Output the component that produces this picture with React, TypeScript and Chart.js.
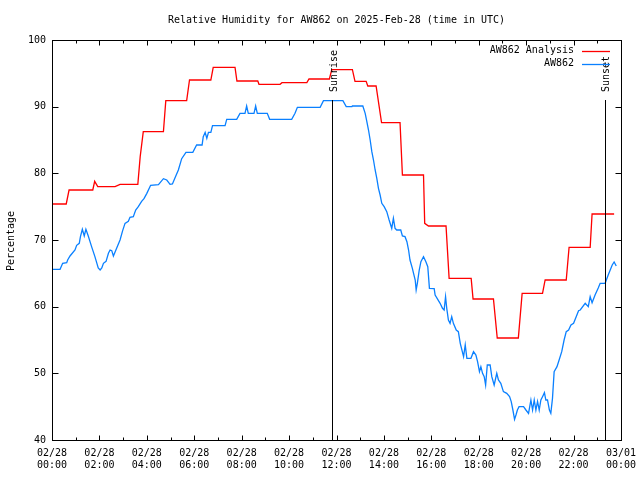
import React, { useEffect, useRef } from "react";
import { Chart, registerables } from "chart.js";

Chart.register(...registerables);

const TITLE = "Relative Humidity for AW862 on 2025-Feb-28 (time in UTC)";
const Y_TITLE = "Percentage";
const SERIES_NAMES = ["AW862 Analysis", "AW862"];
const SERIES_COLORS = ["#ff0000", "#0a80ff"];

// x tick labels every 2 hours (hours since 2025-02-28 00:00 UTC)
const xTickHours = [0, 2, 4, 6, 8, 10, 12, 14, 16, 18, 20, 22, 24];
const xTickDates = ["02/28", "02/28", "02/28", "02/28", "02/28", "02/28", "02/28", "02/28", "02/28", "02/28", "02/28", "02/28", "03/01"];
const xTickTimes = ["00:00", "02:00", "04:00", "06:00", "08:00", "10:00", "12:00", "14:00", "16:00", "18:00", "20:00", "22:00", "00:00"];
const yTicks = [40, 50, 60, 70, 80, 90, 100];

const sunriseHour = 11.83;
const sunsetHour = 23.32;
const markerTopValue = 91;

// AW862 Analysis (red)
const analysisHours = [
  0.0, 0.6, 0.72, 1.72, 1.8, 1.93, 2.66, 2.87, 3.62, 3.72, 3.85, 4.7, 4.8, 5.68, 5.8, 6.7, 6.8, 7.72, 7.8,
  8.68, 8.73, 9.62, 9.7, 10.75, 10.84, 11.7, 11.8, 12.67, 12.78, 13.25, 13.32, 13.67, 13.9, 14.68, 14.78,
  15.67, 15.72, 15.88, 16.62, 16.75, 17.68, 17.76, 18.62, 18.78, 19.67, 19.83, 20.69, 20.8, 21.69, 21.81,
  22.7, 22.78, 23.71,
];
const analysisValues = [
  75.4, 75.4, 77.5, 77.5, 78.8, 78.0, 78.0, 78.35, 78.35, 82.5, 86.25, 86.25, 90.9, 90.9, 94.0, 94.0, 95.9, 95.9, 93.85,
  93.85, 93.35, 93.35, 93.6, 93.6, 94.15, 94.15, 95.55, 95.55, 93.8, 93.8, 93.1, 93.1, 87.6, 87.6, 79.75,
  79.75, 72.5, 72.1, 72.1, 64.25, 64.25, 61.15, 61.15, 55.3, 55.3, 62.0, 62.0, 64.0, 64.0, 68.9,
  68.9, 73.9, 73.9,
];

// AW862 station (blue)
const stationHours = [
  0.0, 0.34, 0.45, 0.62, 0.66, 0.76, 0.97, 1.04, 1.15, 1.2, 1.28, 1.36, 1.43, 1.53, 1.67, 1.81, 1.95, 2.03, 2.1,
  2.17, 2.28, 2.38, 2.45, 2.52, 2.59, 2.73, 2.87, 2.98, 3.08, 3.22, 3.29, 3.43, 3.53, 3.64, 3.78, 3.88, 4.0,
  4.16, 4.49, 4.7, 4.84, 4.98, 5.08, 5.19, 5.33, 5.47, 5.65, 5.94, 6.1, 6.33, 6.38, 6.46, 6.53, 6.6, 6.7,
  6.77, 7.3, 7.37, 7.79, 7.93, 8.14, 8.21, 8.28, 8.52, 8.59, 8.66, 9.08, 9.18, 10.11, 10.25, 10.35, 11.31,
  11.45, 12.27, 12.41, 12.65, 12.67, 13.11, 13.21, 13.28, 13.35, 13.42, 13.49, 13.56, 13.63, 13.7, 13.77,
  13.84, 13.91, 14.01, 14.12, 14.22, 14.33, 14.4, 14.47, 14.54, 14.71, 14.78, 14.89, 14.97, 15.04, 15.1,
  15.2, 15.25, 15.32, 15.36, 15.41, 15.49, 15.56, 15.67, 15.77, 15.85, 15.92, 16.12, 16.16, 16.37, 16.47,
  16.54, 16.6, 16.65, 16.72, 16.79, 16.86, 16.93, 17.05, 17.14, 17.22, 17.36, 17.43, 17.5, 17.67, 17.78,
  17.88, 17.95, 18.03, 18.09, 18.16, 18.23, 18.29, 18.36, 18.48, 18.55, 18.65, 18.76, 18.83, 18.93, 19.04,
  19.18, 19.3, 19.37, 19.44, 19.51, 19.57, 19.63, 19.7, 19.89, 19.99, 20.1, 20.2, 20.27, 20.34, 20.41,
  20.48, 20.55, 20.62, 20.69, 20.77, 20.83, 20.9, 20.98, 21.04, 21.11, 21.18, 21.3, 21.39, 21.5, 21.6,
  21.69, 21.79, 21.89, 22.0, 22.11, 22.21, 22.28, 22.49, 22.62, 22.7, 22.78, 22.91, 23.04, 23.12, 23.33,
  23.46, 23.63, 23.71, 23.8,
];
const stationValues = [
  65.6, 65.6, 66.5, 66.6, 67.0, 67.6, 68.5, 69.2, 69.5, 70.5, 71.6, 70.6, 71.6, 70.6, 69.0, 67.5, 65.8, 65.5, 65.8,
  66.5, 66.8, 68.0, 68.5, 68.4, 67.6, 68.8, 70.0, 71.4, 72.5, 72.8, 73.4, 73.5, 74.5, 75.0, 75.8, 76.2, 77.0,
  78.2, 78.3, 79.2, 79.0, 78.35, 78.4, 79.35, 80.5, 82.2, 83.15, 83.15, 84.25, 84.25, 85.5, 86.15, 85.25, 86.15, 86.15,
  87.15, 87.15, 88.1, 88.1, 89.0, 89.0, 90.1, 89.0, 89.0, 90.1, 89.0, 89.0, 88.1, 88.1, 89.0, 89.9, 89.9,
  90.9, 90.9, 90.0, 90.0, 90.1, 90.1, 89.0, 87.75, 86.5, 85.0, 83.25, 82.0, 80.5, 79.25, 77.75,
  76.75, 75.5, 75.0, 74.25, 73.0, 71.75, 73.25, 71.75, 71.5, 71.5, 70.6, 70.5, 69.75, 68.5, 67.0,
  65.75, 65.0, 64.0, 62.5, 63.5, 65.5, 66.75, 67.5, 66.75, 66.0, 62.75, 62.7, 61.75, 60.5, 59.75,
  59.5, 61.5, 59.75, 58.0, 57.5, 58.5, 57.5, 56.5, 56.25, 54.5, 52.5, 54.25, 52.25, 52.25, 53.25,
  52.75, 51.75, 50.25, 51.0, 50.0, 49.5, 48.25, 51.25, 51.25, 49.5, 48.25, 50.0, 49.0, 48.5, 47.25,
  47.0, 46.5, 45.75, 44.5, 43.1, 43.75, 44.5, 45.0, 45.0, 44.5, 44.0, 46.0, 44.5, 46.0, 44.5,
  45.8, 44.5, 46.0, 46.5, 47.1, 46.0, 46.0, 44.5, 44.0, 46.25, 50.25, 51.0, 52.0, 53.25, 55.0,
  56.25, 56.5, 57.25, 57.5, 58.5, 59.4, 59.5, 60.5, 60.0, 61.5, 60.6, 61.8, 62.8, 63.5, 63.5,
  64.75, 66.25, 66.7, 66.1,
];

const FONT_FAMILY = '"DejaVu Sans Mono", "Liberation Mono", monospace';
const FONT = '10px ' + FONT_FAMILY;

const decorPlugin = {
  id: "gnuplotDecor",
  afterDraw(chart: any) {
    const ctx = chart.ctx as CanvasRenderingContext2D;
    const area = chart.chartArea;
    const xs = chart.scales.x;
    const ys = chart.scales.y;
    const L = Math.round(area.left) + 0.5;
    const R = Math.round(area.right) + 0.5;
    const T = Math.round(area.top) + 0.5;
    const B = Math.round(area.bottom) + 0.5;
    ctx.save();
    ctx.strokeStyle = "#000";
    ctx.lineWidth = 1;
    ctx.beginPath();
    for (let h = 0; h <= 24; h++) {
      const px = Math.round(xs.getPixelForValue(h)) + 0.5;
      const len = h % 2 === 0 ? 5 : 3;
      ctx.moveTo(px, B);
      ctx.lineTo(px, B - len);
      ctx.moveTo(px, T);
      ctx.lineTo(px, T + len);
    }
    for (const v of yTicks) {
      const py = Math.round(ys.getPixelForValue(v)) + 0.5;
      ctx.moveTo(L, py);
      ctx.lineTo(L + 6, py);
      ctx.moveTo(R, py);
      ctx.lineTo(R - 6, py);
    }
    ctx.stroke();
    ctx.strokeRect(L, T, R - L, B - T);

    // sunrise / sunset
    ctx.beginPath();
    const markers: [number, string][] = [
      [sunriseHour, "Sunrise"],
      [sunsetHour, "Sunset"],
    ];
    const yTop = Math.round(ys.getPixelForValue(markerTopValue));
    for (const [h] of markers) {
      const px = Math.round(xs.getPixelForValue(h)) + 0.5;
      ctx.moveTo(px, yTop);
      ctx.lineTo(px, B);
    }
    ctx.stroke();
    ctx.fillStyle = "#000";
    ctx.font = FONT;
    for (const [h, label] of markers) {
      const px = xs.getPixelForValue(h);
      ctx.save();
      ctx.translate(px + 1.5, yTop - 8);
      ctx.rotate(-Math.PI / 2);
      ctx.textAlign = "left";
      ctx.textBaseline = "middle";
      ctx.fillText(label, 0, 0);
      ctx.restore();
    }

    // title
    ctx.textAlign = "center";
    ctx.textBaseline = "middle";
    ctx.fillText(TITLE, (area.left + area.right) / 2, 20);

    // y title
    ctx.save();
    ctx.translate(11, (area.top + area.bottom) / 2 + 1);
    ctx.rotate(-Math.PI / 2);
    ctx.textAlign = "center";
    ctx.textBaseline = "middle";
    ctx.fillText(Y_TITLE, 0, 0);
    ctx.restore();

    // legend
    ctx.textAlign = "right";
    for (let i = 0; i < SERIES_NAMES.length; i++) {
      const ly = area.top + 10.5 + i * 13;
      ctx.fillStyle = "#000";
      ctx.fillText(SERIES_NAMES[i], area.right - 47, ly);
      ctx.strokeStyle = SERIES_COLORS[i];
      ctx.lineWidth = 1.3;
      ctx.beginPath();
      ctx.moveTo(area.right - 39, Math.round(ly) + 0.5);
      ctx.lineTo(area.right - 11, Math.round(ly) + 0.5);
      ctx.stroke();
    }
    ctx.restore();
  },
};

export default function App() {
  const canvasRef = useRef<HTMLCanvasElement | null>(null);

  useEffect(() => {
    document.body.style.margin = "0";
    const canvas = canvasRef.current;
    if (!canvas) return;
    const chart = new Chart(canvas, {
      type: "line",
      data: {
        datasets: [
          {
            label: SERIES_NAMES[0],
            data: analysisHours.map((h, i) => ({ x: h, y: analysisValues[i] })),
            borderColor: SERIES_COLORS[0],
            borderWidth: 1.3,
            pointRadius: 0,
            tension: 0,
            fill: false,
          },
          {
            label: SERIES_NAMES[1],
            data: stationHours.map((h, i) => ({ x: h, y: stationValues[i] })),
            borderColor: SERIES_COLORS[1],
            borderWidth: 1.3,
            pointRadius: 0,
            tension: 0,
            fill: false,
          },
        ],
      },
      options: {
        animation: false,
        responsive: false,
        maintainAspectRatio: false,
        devicePixelRatio: 1,
        layout: { padding: { top: 40, right: 19, left: 0, bottom: 0 } },
        plugins: {
          legend: { display: false },
          title: { display: false },
          tooltip: { enabled: false },
        },
        scales: {
          x: {
            type: "linear",
            min: 0,
            max: 24,
            afterFit: (s: any) => {
              s.height = 40;
              s.paddingLeft = 0;
              s.paddingRight = 0;
            },
            afterBuildTicks: (s: any) => {
              s.ticks = xTickHours.map((v) => ({ value: v }));
            },
            grid: { display: false, drawTicks: false },
            border: { display: false },
            ticks: {
              autoSkip: false,
              maxRotation: 0,
              minRotation: 0,
              padding: 7,
              color: "#000",
              font: { family: FONT_FAMILY, size: 10, lineHeight: 1.2 },
              callback: (value: any) => {
                const i = xTickHours.indexOf(Number(value));
                return i >= 0 ? [xTickDates[i], xTickTimes[i]] : "";
              },
            },
          },
          y: {
            type: "linear",
            min: 40,
            max: 100,
            afterFit: (s: any) => {
              s.width = 52;
              s.paddingTop = 0;
              s.paddingBottom = 0;
            },
            afterBuildTicks: (s: any) => {
              s.ticks = yTicks.map((v) => ({ value: v }));
            },
            grid: { display: false, drawTicks: false },
            border: { display: false },
            ticks: {
              padding: 6,
              color: "#000",
              font: { family: FONT_FAMILY, size: 10 },
              callback: (value: any) => String(value),
            },
          },
        },
      },
      plugins: [decorPlugin],
    });
    return () => chart.destroy();
  }, []);

  return (
    <div style={{ position: "fixed", left: 0, top: 0, width: 640, height: 480, background: "#fff" }}>
      <canvas ref={canvasRef} width={640} height={480} style={{ width: 640, height: 480 }} />
    </div>
  );
}
